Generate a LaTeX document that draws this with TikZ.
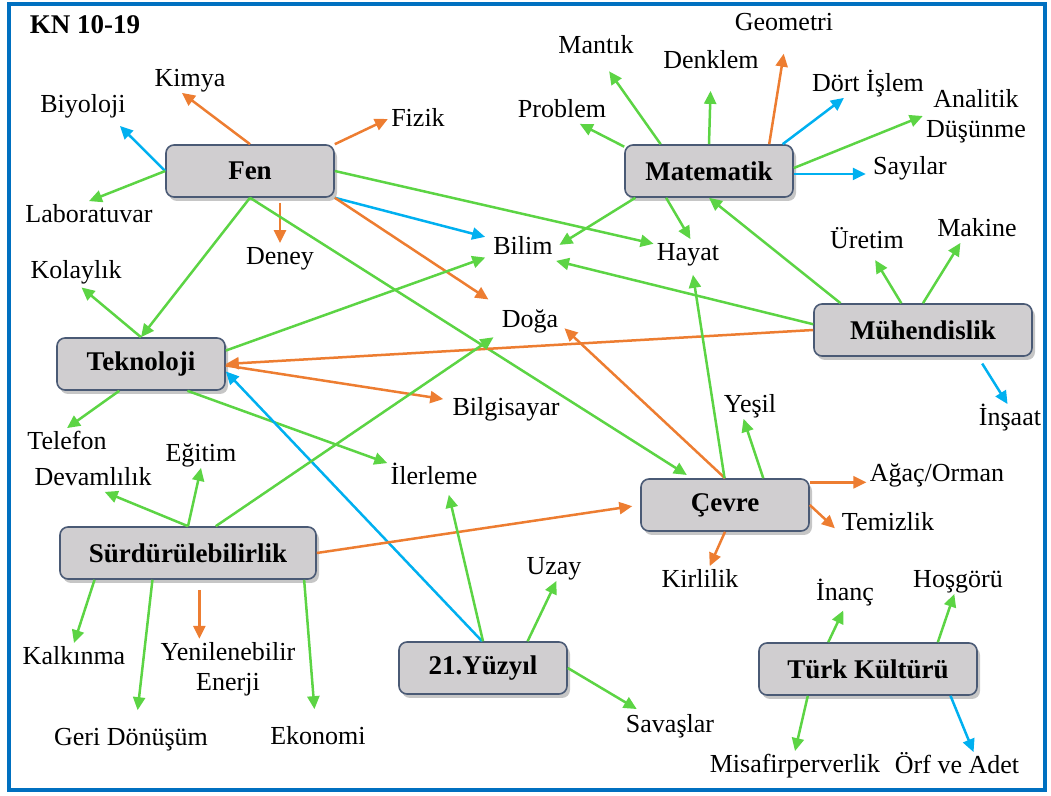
\documentclass[tikz,border=0pt]{standalone}
\usepackage{fontspec}
\setmainfont{Liberation Serif}
\usetikzlibrary{arrows.meta,shadows,calc}
\definecolor{grn}{RGB}{92,212,68}
\definecolor{org}{RGB}{237,125,49}
\definecolor{blu}{RGB}{0,176,240}
\definecolor{frameblue}{RGB}{0,112,192}
\definecolor{boxgray}{RGB}{208,206,208}
\definecolor{boxline}{RGB}{74,90,117}
\tikzset{
  box/.style = {draw=boxline, line width=0.8pt, fill=boxgray, rounded corners=4pt,
    minimum width=84pt, minimum height=26pt, font=\fontsize{13.5}{16}\selectfont\bfseries,
    drop shadow={shadow xshift=1.5pt, shadow yshift=-2pt, opacity=0.45}},
  pair/.style = {inner sep=1.5pt, font=\fontsize{13}{15}\selectfont, align=center},
  word/.style = {pair, text height=9pt, text depth=1.5pt},
  link/.style = {line width=1.25pt, -{Triangle[length=6.5pt,width=6pt]}},
  garr/.style = {link, draw=grn, fill=grn},
  oarr/.style = {link, draw=org, fill=org},
  barr/.style = {link, draw=blu, fill=blu}
}

\begin{document}
\begin{tikzpicture}[x=0.5pt, y=-0.5pt]
    \useasboundingbox (0,0) rectangle (1051,796);
    \draw[frameblue, line width=2pt] (8.5,4.5) rectangle (1045,790.5);
    \node[font=\fontsize{13.5}{16}\selectfont\bfseries] (title) at (85,25) {KN 10-19};

    % main concepts
    \node [box] (fen) at (250,171) {Fen};
    \node [box] (tek) at (141,364) {Teknoloji};
    \node [box] (mat) at (709,171) {Matematik};
    \node [box, minimum width=109pt] (muh) at (923,330) {Mühendislik};
    \node [box] (cevre) at (725,505) {Çevre};
    \node [box, minimum width=128pt] (surd) at (188,553) {Sürdürülebilirlik};
    \node [box] (yuz) at (483,668) {21.Yüzyıl};
    \node [box, minimum width=109pt] (turk) at (868,669) {Türk Kültürü};

    % terms
    \node [word] (kimya) at (190,79) {Kimya};
    \node [word] (biyoloji) at (83,105) {Biyoloji};
    \node [word] (fizik) at (418,119) {Fizik};
    \node [word] (lab) at (89,215) {Laboratuvar};
    \node [word] (deney) at (280,257) {Deney};
    \node [word] (kolay) at (76,271) {Kolaylık};
    \node [word] (bilim) at (523,247) {Bilim};
    \node [word] (hayat) at (688,253) {Hayat};
    \node [word] (doga) at (530,320) {Doğa};
    \node [word] (bilgi) at (506,408) {Bilgisayar};
    \node [word] (ilerleme) at (434,477) {İlerleme};
    \node [word] (yesil) at (750,405) {Yeşil};
    \node [word] (mantik) at (596,46) {Mantık};
    \node [word] (denklem) at (711,61) {Denklem};
    \node [word] (geo) at (784,23) {Geometri};
    \node [word] (problem) at (562,110) {Problem};
    \node [word] (dort) at (868,84) {Dört İşlem};
    \node [pair] (analitik) at (976,116) {Analitik\\Düşünme};
    \node [word] (sayilar) at (910,167) {Sayılar};
    \node [word] (uretim) at (867,241) {Üretim};
    \node [word] (makine) at (977,229) {Makine};
    \node [word] (insaat) at (1010,418) {İnşaat};
    \node [word] (telefon) at (67,442) {Telefon};
    \node [word] (egitim) at (201,454) {Eğitim};
    \node [word] (devam) at (93,478) {Devamlılık};
    \node [word] (kalkinma) at (74,657) {Kalkınma};
    \node [pair] (yenile) at (228,669) {Yenilenebilir\\Enerji};
    \node [word] (geri) at (131,738) {Geri Dönüşüm};
    \node [word] (ekonomi) at (318,737) {Ekonomi};
    \node [word] (uzay) at (554,567) {Uzay};
    \node [word] (savas) at (670,725) {Savaşlar};
    \node [word] (agac) at (937,474) {Ağaç/Orman};
    \node [word] (temiz) at (888,523) {Temizlik};
    \node [word] (kirli) at (700,580) {Kirlilik};
    \node [word] (inanc) at (845,593) {İnanç};
    \node [word] (hosgoru) at (958,580) {Hoşgörü};
    \node [word] (misafir) at (795,765) {Misafirperverlik};
    \node [word] (orf) at (957,766) {Örf ve Adet};

    % Fen
    \draw [oarr] (fen.north) -- (kimya.-120);
    \draw [barr, shorten >=5pt] (fen.west) -- (biyoloji.-25);
    \draw [garr] (fen.west) -- (lab.north);
    \draw [oarr] (fen.north east) -- (fizik.west);
    \draw [oarr, shorten <=2.5pt] (fen.south -| deney.north) -- (deney.north);
    \draw [garr] (fen.south) -- (tek.north);
    \draw [barr, shorten >=2.5pt] (fen.south east) -- (bilim.165);
    \draw [oarr, shorten >=6pt] (fen.south east) -- (doga.north west);
    \draw [garr] (fen.east) -- (hayat.165);
    \draw [garr, shorten >=3pt] (fen.south) -- (cevre.141);

    % Teknoloji
    \draw [garr, shorten >=2pt] (tek.north) -- (kolay.-80);
    \draw [garr, shorten >=2.5pt] (tek.9) -- (bilim.195);
    \draw [oarr] (muh.west) -- (tek.east);
    \draw [oarr, shorten >=3pt] (tek.-1) -- (bilgi.172);
    \draw [garr] (tek.231) -- (telefon.north);
    \draw [garr] (tek.-30) -- (ilerleme.north west);
    \draw [barr] (yuz.92) -- (tek.-5);

    % Matematik
    \draw [garr] (mat.164) -- (problem.-38);
    \draw [garr, shorten >=7pt] (mat.151) -- (mantik.-70);
    \draw [garr, shorten >=8pt] (mat.north) -- (denklem.south);
    \draw [oarr, shorten >=8.5pt] (mat.24) -- (geo.-80);
    \draw [barr] (mat.20) -- (dort.-150);
    \draw [garr] (mat.2) -- (analitik.west);
    \draw [barr, shorten >=2pt] (mat.-2) -- (mat.-2 -| sayilar.west);
    \draw [garr, shorten >=2pt] (mat.200) -- (bilim.east);
    \draw [garr] (mat.212) -- (hayat.80);
    \draw [garr] (muh.162) -- (mat.south);

    % Mühendislik
    \draw [garr] (muh.177) -- (bilim.south east);
    \draw [garr, shorten >=3pt] (muh.129) -- (uretim.-70);
    \draw [garr] (muh.north) -- (makine.-140);
    \draw [barr, shorten <=4pt] (muh.-26) -- (insaat.100);

    % Çevre
    \draw [oarr, shorten >=2pt] (cevre.north) -- (doga.-10);
    \draw [garr, shorten >=4pt] (cevre.91) -- (hayat.-75);
    \draw [garr] (cevre.35) -- (yesil.-115);
    \draw [oarr] (cevre.15) -- (cevre.15 -| agac.west);
    \draw [oarr, shorten >=2.5pt] (cevre.east) -- (temiz.190);
    \draw [oarr] (cevre.south) -- (kirli.55);

    % Sürdürülebilirlik
    \draw [garr] (surd.north) -- (devam.-50);
    \draw [garr] (surd.north) -- (egitim.south);
    \draw [garr, shorten >=3pt] (surd.44) -- (doga.south west);
    \draw [oarr, shorten >=4pt] (surd.east) -- (cevre.west);
    \draw [garr] (surd.196) -- (kalkinma.north);
    \draw [garr, shorten >=7pt] (surd.217) -- (geri.70);
    \draw [oarr, shorten <=5pt] (surd.-67) -- (surd.-67 |- yenile.north);
    \draw [garr, shorten >=7pt] (surd.-13) -- (ekonomi.100);

    % 21.Yüzyıl
    \draw [garr, shorten >=2pt] (yuz.north) -- (ilerleme.-45);
    \draw [garr] (yuz.31) -- (uzay.-80);
    \draw [garr, shorten >=2pt] (yuz.east) -- (savas.155);

    % Türk Kültürü
    \draw [garr, shorten >=2pt] (turk.146) -- (inanc.south);
    \draw [garr] (turk.21) -- (hosgoru.-105);
    \draw [garr] (turk.204) -- (misafir.north);
    \draw [barr] (turk.-18) -- (orf.40);
\end{tikzpicture}
\end{document}
